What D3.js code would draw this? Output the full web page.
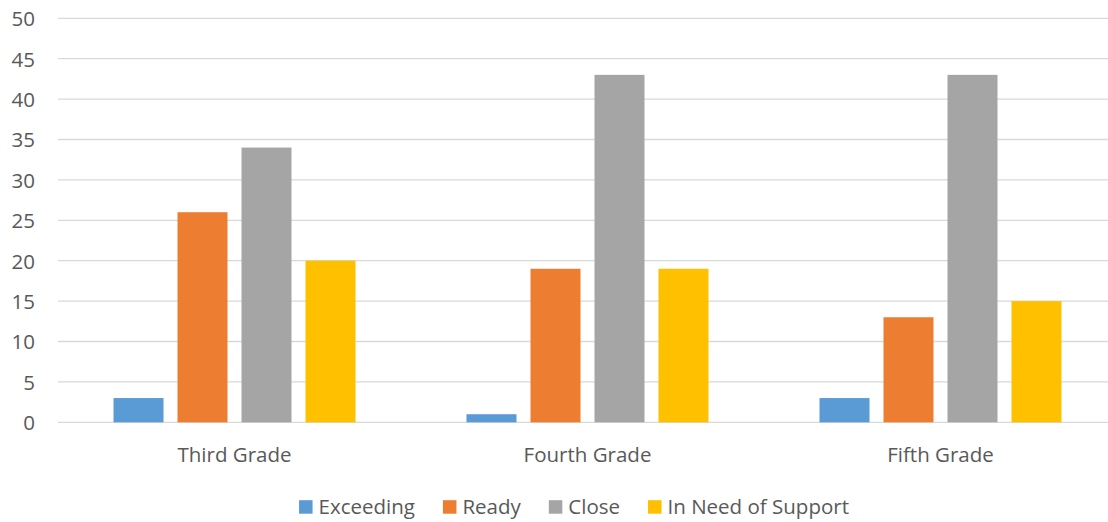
<!DOCTYPE html>
<html>
<head>
<meta charset="utf-8">
<script src="https://cdn.jsdelivr.net/npm/d3@7"></script>
<style>
  html, body { margin: 0; padding: 0; background: #fff; }
  svg { display: block; font-family: "Open Sans", sans-serif; }
</style>
</head>
<body>
<svg id="chart" width="1108" height="522"></svg>
<script>
// Grade groups and score bands
const grades = ["Third Grade", "Fourth Grade", "Fifth Grade"];
const seriesNames = ["Exceeding", "Ready", "Close", "In Need of Support"];
const seriesColors = ["#5B9BD5", "#ED7D31", "#A5A5A5", "#FFC000"];

// Student counts per band, one array per series (order follows grades)
const exceeding = [3, 1, 3];
const ready = [26, 19, 13];
const close = [34, 43, 43];
const needSupport = [20, 19, 15];
const seriesValues = [exceeding, ready, close, needSupport];

const yTicks = [0, 5, 10, 15, 20, 25, 30, 35, 40, 45, 50];

(function draw() {
  const svg = d3.select("#chart");
  const W = 1108;
  const plotLeft = 58, plotRight = 1117, plotTop = 18.3, plotBottom = 422.3;
  const fontFamily = "'Open Sans', sans-serif";
  const fontSize = 20.5;
  const textColor = "#595959";

  const x0 = d3.scaleBand().domain(grades).range([plotLeft, plotRight]).padding(0);
  const x1 = d3.scaleBand().domain(seriesNames).range([0, x0.bandwidth()])
    .paddingInner(14 / 64).paddingOuter(0.8672);
  const y = d3.scaleLinear().domain([0, 50]).range([plotBottom, plotTop]);

  // Horizontal gridlines
  svg.append("g")
    .selectAll("line")
    .data(yTicks)
    .join("line")
    .attr("x1", plotLeft).attr("x2", W)
    .attr("y1", d => y(d)).attr("y2", d => y(d))
    .attr("stroke", "#D9D9D9")
    .attr("stroke-width", 1.3);

  // Y axis labels
  const yAxis = d3.axisLeft(y).tickValues(yTicks).tickSize(0).tickPadding(0);
  const gy = svg.append("g").attr("transform", "translate(35,0)").call(yAxis);
  gy.select(".domain").remove();
  gy.selectAll("text")
    .attr("dy", null)
    .attr("y", 7.3)
    .attr("fill", textColor)
    .attr("font-size", fontSize)
    .attr("font-family", fontFamily);

  // Bars
  const rows = grades.map((g, gi) => ({
    grade: g,
    vals: seriesNames.map((s, si) => ({ series: s, value: seriesValues[si][gi], color: seriesColors[si] }))
  }));

  svg.append("g")
    .selectAll("g")
    .data(rows)
    .join("g")
    .attr("transform", d => `translate(${x0(d.grade)},0)`)
    .selectAll("rect")
    .data(d => d.vals)
    .join("rect")
    .attr("x", d => x1(d.series))
    .attr("width", x1.bandwidth())
    .attr("y", d => y(d.value))
    .attr("height", d => y(0) - y(d.value))
    .attr("fill", d => d.color);

  // Category labels
  const xAxis = d3.axisBottom(x0).tickSize(0).tickPadding(0);
  const gx = svg.append("g").attr("transform", `translate(0,${plotBottom})`).call(xAxis);
  gx.select(".domain").remove();
  gx.selectAll("text")
    .attr("dy", null)
    .attr("y", 39.3)
    .attr("fill", textColor)
    .attr("font-size", fontSize)
    .attr("font-family", fontFamily);

  // Legend, centred under the plot
  const legend = svg.append("g");
  const items = legend.selectAll("g")
    .data(seriesNames.map((s, i) => ({ name: s, color: seriesColors[i] })))
    .join("g");
  items.append("rect")
    .attr("width", 13.5).attr("height", 13.5)
    .attr("y", -13.8)
    .attr("fill", d => d.color);
  items.append("text")
    .attr("x", 19.5)
    .attr("y", 0)
    .attr("fill", textColor)
    .attr("font-size", fontSize)
    .attr("font-family", fontFamily)
    .text(d => d.name);
  let cx = 0;
  const gap = 28;
  items.each(function () {
    const g = d3.select(this);
    g.attr("transform", `translate(${cx},0)`);
    cx += 19.5 + g.select("text").node().getComputedTextLength() + gap;
  });
  const totalW = cx - gap;
  legend.attr("transform", `translate(${574 - totalW / 2},${514})`);
})();
</script>
</body>
</html>
